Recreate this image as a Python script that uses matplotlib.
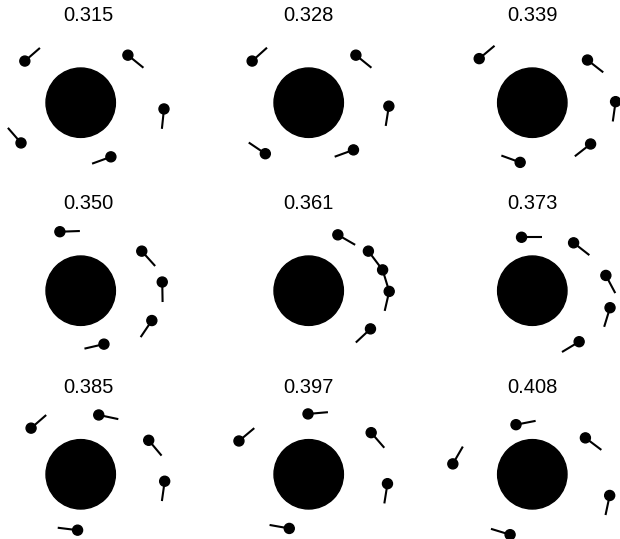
import numpy as np
import matplotlib
matplotlib.use("Agg")
import matplotlib.pyplot as plt
from matplotlib.patches import Circle

plt.rcParams['font.family'] = ['Liberation Sans', 'DejaVu Sans']

# snapshot times
times = ["0.315", "0.328", "0.339", "0.350", "0.361", "0.373", "0.385", "0.397", "0.408"]

# particle positions (units of central body radius) and stick direction (deg)
px = [[-1.61, 1.36, 2.40, -1.72, 0.87],
      [-1.63, 1.36, 2.31, -1.25, 1.29],
      [-1.53, 1.59, 2.40, 1.68, -0.35],
      [-0.60, 1.76, 2.35, 2.05, 0.67],
      [0.84, 1.72, 2.13, 2.32, 1.78],
      [-0.31, 1.19, 2.12, 2.24, 1.35],
      [-1.43, 0.52, 1.96, 2.42, -0.09],
      [-0.02, -2.01, 1.80, 2.27, -0.56],
      [-0.47, 1.53, -2.29, 2.23, -0.64]]
py = [[1.20, 1.37, -0.18, -1.16, -1.56],
      [1.20, 1.37, -0.10, -1.47, -1.36],
      [1.27, 1.23, 0.03, -1.19, -1.72],
      [1.70, 1.14, 0.25, -0.86, -1.54],
      [1.61, 1.14, 0.60, -0.02, -1.10],
      [1.54, 1.38, 0.44, -0.49, -1.47],
      [1.33, 1.71, 0.98, -0.20, -1.61],
      [1.74, 0.96, 1.20, -0.27, -1.56],
      [1.43, 1.05, 0.30, -0.61, -1.74]]
angle = [[41, -39, -96, 131, -160],
         [42, -39, -99, 146, -160],
         [40, -38, -98, -142, 160],
         [2, -48, -89, -124, -167],
         [-30, -53, -73, -103, -137],
         [0, -38, -62, -107, -149],
         [41, -12, -50, -98, 173],
         [5, 40, -49, -99, 170],
         [11, -37, 60, -102, 163]]

W, H = 620, 539
ppu = 34.7          # pixels per unit
stick = 20 / ppu
ball_r = 5 / ppu

col_cx = [80.7, 308.7, 532.3]
col_tx = [88.0, 308.5, 532.3]
row_cy = [102.7, 290.7, 474.3]

fig = plt.figure(figsize=(W / 100, H / 100), dpi=100)

for i in range(9):
    r, c = divmod(i, 3)
    cx, tx, cy = col_cx[c], col_tx[c], row_cy[r]
    left, right = tx - 100, tx + 100
    top, bottom = cy - 77.4, cy + 92
    ax = fig.add_axes([left / W, 1 - bottom / H, (right - left) / W, (bottom - top) / H])
    ax.set_xlim((left - cx) / ppu, (right - cx) / ppu)
    ax.set_ylim(-(bottom - cy) / ppu, (cy - top) / ppu)
    ax.axis("off")
    ax.add_patch(Circle((0, 0), 1.0, color="black", clip_on=False))
    for x, y, a in zip(px[i], py[i], angle[i]):
        t = np.deg2rad(a)
        ax.plot([x, x + stick * np.cos(t)], [y, y + stick * np.sin(t)],
                color="black", lw=1.5, solid_capstyle="butt", clip_on=False)
        ax.add_patch(Circle((x, y), ball_r, color="black", clip_on=False, zorder=3))
    ax.set_title(times[i], fontsize=14.5, pad=0)

fig.savefig("out.png", dpi=100)
